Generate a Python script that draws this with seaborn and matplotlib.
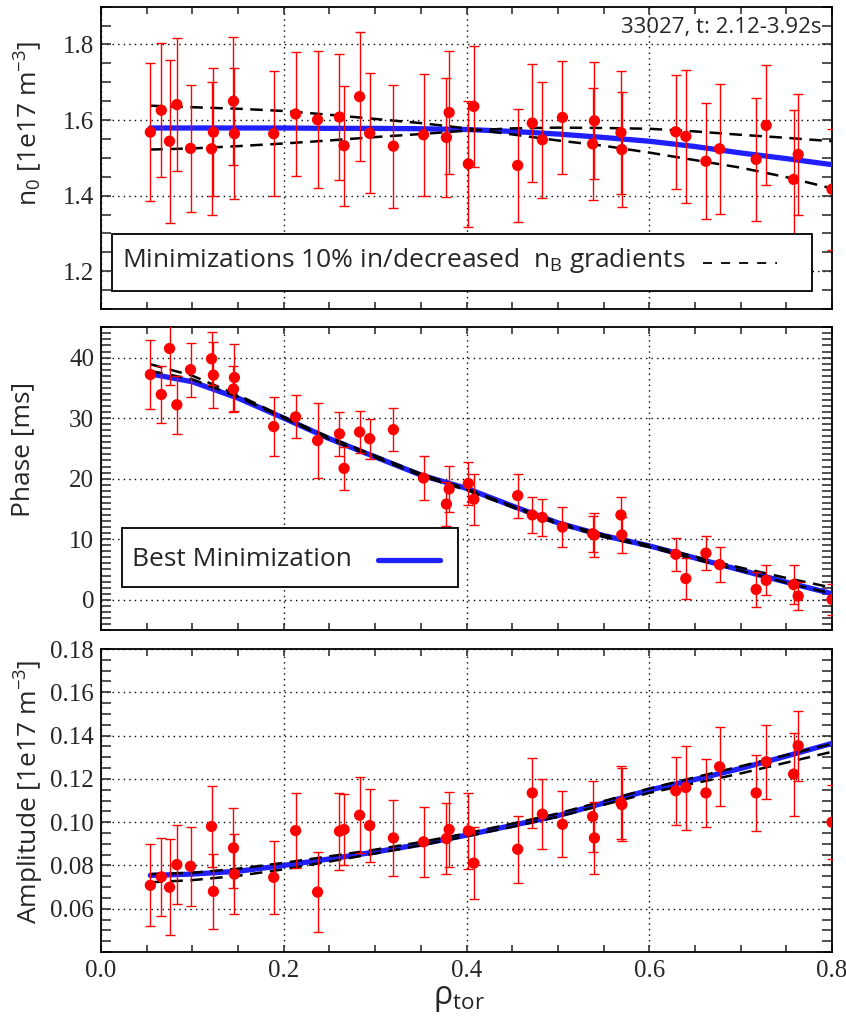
import numpy as np
import pandas as pd
import matplotlib
matplotlib.use("Agg")
import matplotlib.pyplot as plt
import seaborn as sns
from matplotlib.ticker import MultipleLocator
from matplotlib.patches import Rectangle
from matplotlib.lines import Line2D

# ---------------- data ----------------
rho = [0.054, 0.066, 0.075, 0.083, 0.098, 0.121, 0.123, 0.145, 0.146, 0.189,
       0.213, 0.237, 0.261, 0.266, 0.283, 0.294, 0.320, 0.353, 0.378, 0.381,
       0.402, 0.408, 0.456, 0.472, 0.483, 0.505, 0.538, 0.540, 0.569, 0.570,
       0.629, 0.640, 0.662, 0.677, 0.717, 0.728, 0.758, 0.763, 0.800]

n0 = [1.568, 1.626, 1.544, 1.641, 1.525, 1.524, 1.568, 1.650, 1.564, 1.564,
      1.616, 1.601, 1.608, 1.532, 1.662, 1.565, 1.531, 1.561, 1.554, 1.620,
      1.484, 1.636, 1.480, 1.592, 1.548, 1.607, 1.537, 1.598, 1.567, 1.522,
      1.569, 1.557, 1.491, 1.524, 1.496, 1.586, 1.443, 1.509, 1.417]
n0_err = [0.182, 0.177, 0.216, 0.175, 0.168, 0.176, 0.169, 0.170, 0.174, 0.165,
          0.163, 0.182, 0.166, 0.159, 0.171, 0.159, 0.163, 0.161, 0.158, 0.164,
          0.166, 0.161, 0.150, 0.157, 0.154, 0.150, 0.148, 0.155, 0.163, 0.153,
          0.151, 0.176, 0.154, 0.172, 0.163, 0.159, 0.184, 0.160, 0.160]

phase = [37.2, 33.9, 41.5, 32.2, 38.0, 39.8, 37.1, 34.8, 36.7, 28.6,
         30.2, 26.3, 27.4, 21.7, 27.7, 26.6, 28.1, 20.1, 15.8, 18.3,
         19.2, 16.6, 17.2, 14.0, 13.6, 12.0, 10.9, 10.7, 14.0, 10.7,
         7.5, 3.5, 7.7, 5.8, 1.7, 3.2, 2.5, 0.6, 0.05]
phase_err = [5.7, 4.65, 6.1, 4.75, 4.45, 4.35, 5.5, 3.85, 5.6, 4.9,
             3.55, 6.25, 3.65, 3.55, 3.4, 3.3, 3.6, 3.7, 3.7, 3.75,
             3.5, 4.2, 3.65, 2.95, 3.1, 3.3, 3.0, 3.6, 3.05, 3.0,
             2.75, 3.4, 2.85, 2.9, 2.95, 2.5, 3.25, 2.35, 2.5]

amp = [0.0708, 0.0747, 0.0699, 0.0804, 0.0796, 0.0980, 0.0680, 0.0881, 0.0760, 0.0745,
       0.0961, 0.0677, 0.0958, 0.0966, 0.1032, 0.0984, 0.0927, 0.0909, 0.0924, 0.0966,
       0.0960, 0.0811, 0.0875, 0.1135, 0.1037, 0.0990, 0.1026, 0.0927, 0.1091, 0.1081,
       0.1145, 0.1160, 0.1135, 0.1256, 0.1135, 0.1279, 0.1222, 0.1353, 0.1000]
amp_err = [0.0189, 0.0181, 0.0221, 0.0181, 0.0182, 0.0188, 0.0173, 0.0183, 0.0184, 0.0168,
           0.0173, 0.0186, 0.0178, 0.0165, 0.0176, 0.0167, 0.0176, 0.0163, 0.0165, 0.0171,
           0.0176, 0.0168, 0.0155, 0.0163, 0.0163, 0.0153, 0.0166, 0.0165, 0.0170, 0.0169,
           0.0156, 0.0194, 0.0159, 0.0182, 0.0174, 0.0170, 0.0192, 0.0162, 0.0170]

fit_rho = [0.054, 0.10, 0.15, 0.20, 0.25, 0.30, 0.35, 0.40, 0.45, 0.50,
           0.55, 0.60, 0.65, 0.70, 0.75, 0.80]

n0_best = [1.579, 1.579, 1.579, 1.579, 1.578, 1.578, 1.577, 1.575, 1.570, 1.563,
           1.554, 1.544, 1.530, 1.513, 1.498, 1.482]
n0_grad_up = [1.638, 1.634, 1.630, 1.624, 1.614, 1.603, 1.592, 1.578, 1.562, 1.546,
              1.532, 1.514, 1.494, 1.474, 1.449, 1.419]
n0_grad_dn = [1.522, 1.525, 1.531, 1.538, 1.546, 1.555, 1.563, 1.572, 1.578, 1.580,
              1.579, 1.577, 1.570, 1.561, 1.553, 1.544]

phase_best = [37.3, 36.0, 33.3, 30.0, 26.6, 23.6, 20.6, 18.4, 15.5, 12.7,
              10.6, 8.9, 6.9, 4.9, 2.9, 1.0]
phase_grad_up = [38.9, 37.0, 33.8, 30.2, 26.8, 23.8, 20.8, 18.3, 15.5, 12.8,
                 10.7, 9.0, 7.1, 5.3, 3.6, 2.0]
phase_grad_dn = [37.8, 36.4, 33.5, 30.0, 26.5, 23.5, 20.5, 18.1, 15.3, 12.5,
                 10.4, 8.7, 6.7, 4.8, 2.8, 1.0]

amp_best = [0.0754, 0.0760, 0.0773, 0.0800, 0.0830, 0.0862, 0.0898, 0.0940, 0.0985, 0.1030,
            0.1088, 0.1148, 0.1197, 0.1248, 0.1305, 0.1364]
amp_grad_up = [0.0760, 0.0766, 0.0785, 0.0812, 0.0842, 0.0873, 0.0908, 0.0948, 0.0993, 0.1040,
               0.1097, 0.1155, 0.1207, 0.1258, 0.1310, 0.1362]
amp_grad_dn = [0.0722, 0.0732, 0.0752, 0.0782, 0.0818, 0.0855, 0.0893, 0.0935, 0.0978, 0.1025,
               0.1080, 0.1135, 0.1180, 0.1225, 0.1275, 0.1325]

x_ticks = [0.0, 0.2, 0.4, 0.6, 0.8]
n0_ticks = [1.2, 1.4, 1.6, 1.8]
phase_ticks = [0, 10, 20, 30, 40]
amp_ticks = [0.06, 0.08, 0.10, 0.12, 0.14, 0.16, 0.18]

title_text = "33027, t: 2.12-3.92s"
legend_grad = r"Minimizations 10% in/decreased  n$_{\mathrm{B}}$ gradients"
legend_best = "Best Minimization"

# ---------------- style ----------------
sns.set_style("ticks")
plt.rcParams['font.family'] = ['Liberation Serif', 'DejaVu Serif']
plt.rcParams['mathtext.fontset'] = 'custom'
plt.rcParams['mathtext.rm'] = 'Open Sans'
plt.rcParams['mathtext.it'] = 'Open Sans:italic'
plt.rcParams['mathtext.bf'] = 'Open Sans:bold'
plt.rcParams['axes.linewidth'] = 1.3
plt.rcParams['axes.edgecolor'] = 'black'

SANS = ['Open Sans', 'DejaVu Sans']
SERIF = ['Liberation Serif', 'DejaVu Serif']
BLUE = '#2020ff'
RED = '#ff0000'

fig = plt.figure(figsize=(8.46, 10.17), dpi=100)
L, W = 101 / 846, 731 / 846
ax_top = fig.add_axes([L, 708 / 1017, W, 302.3 / 1017])
ax_mid = fig.add_axes([L, 387 / 1017, W, 302.7 / 1017])
ax_bot = fig.add_axes([L, 65 / 1017, W, 303 / 1017])

panels = [
    (ax_top, n0, n0_err, n0_best, n0_grad_up, n0_grad_dn, (1.1, 1.9), n0_ticks, 0.05, '%.1f', False),
    (ax_mid, phase, phase_err, phase_best, phase_grad_up, phase_grad_dn, (-5, 45), phase_ticks, 1, '%d', False),
    (ax_bot, amp, amp_err, amp_best, amp_grad_up, amp_grad_dn, (0.04, 0.18), amp_ticks, 0.005, '%.2f', True),
]

for ax, y, yerr, best, up, dn, ylim, yt, yminor, fmt, xlab in panels:
    sns.lineplot(x=fit_rho, y=best, ax=ax, color=BLUE, lw=3.8, zorder=3, legend=False)
    for grad in (up, dn):
        sns.lineplot(x=fit_rho, y=grad, ax=ax, color='black', lw=1.8,
                     linestyle=(0, (5, 3)), zorder=4, legend=False)
    ax.errorbar(rho, y, yerr=yerr, fmt='none', ecolor=RED, elinewidth=1.0,
                capsize=3.5, capthick=1.0, zorder=5)
    sns.scatterplot(x=rho, y=y, ax=ax, color=RED, s=66, edgecolor='none',
                    zorder=6, legend=False)
    ax.set_xlim(0, 0.8)
    ax.set_ylim(*ylim)
    ax.set_xticks(x_ticks, labels=[('%.1f' % v) if xlab else '' for v in x_ticks],
                  fontfamily=SERIF, fontsize=18)
    ax.xaxis.set_minor_locator(MultipleLocator(0.05))
    ax.set_yticks(yt, labels=[fmt % v for v in yt], fontfamily=SERIF, fontsize=18)
    ax.yaxis.set_minor_locator(MultipleLocator(yminor))
    ax.grid(True, which='major', color='black', lw=1.0, linestyle=(0, (1, 3)))
    ax.tick_params(which='both', direction='in', top=True, right=True,
                   color='#333333', width=1.2)
    ax.tick_params(axis='y', which='both', length=7, pad=5)
    ax.tick_params(axis='x', which='both', length=5, pad=6)
    ax.set_xlabel('')
    ax.set_ylabel('')

# y labels
ax_top.set_ylabel(r"n$_{\mathrm{0}}$ [1e17 m$^{\mathrm{-3}}$]", fontfamily=SANS, fontsize=19, va='center')
ax_top.yaxis.set_label_coords(-0.100, 0.615)
ax_mid.set_ylabel("Phase [ms]", fontfamily=SANS, fontsize=19, va='center')
ax_mid.yaxis.set_label_coords(-0.107, 0.595)
ax_bot.set_ylabel(r"Amplitude [1e17 m$^{\mathrm{-3}}$]", fontfamily=SANS, fontsize=19, va='center')
ax_bot.yaxis.set_label_coords(-0.098, 0.528)
ax_bot.set_xlabel(r"ρ$_{\mathrm{tor}}$", fontfamily=SANS, fontsize=23, va='baseline')
ax_bot.xaxis.set_label_coords(0.49, -0.170)

# annotation
ax_top.text(0.986, 0.913, title_text, transform=ax_top.transAxes, ha='right',
            va='baseline', fontsize=16, fontfamily=SANS, zorder=12)

# legend boxes
ax_top.add_patch(Rectangle((0.0146, 0.0595), 0.9574, 0.1875, transform=ax_top.transAxes,
                           facecolor='white', edgecolor='black', lw=1.3, zorder=10))
ax_top.text(0.0287, 0.140, legend_grad, transform=ax_top.transAxes, ha='left',
            va='baseline', fontsize=19, fontfamily=SANS, zorder=11)
ax_top.add_line(Line2D([0.8235, 0.9247], [0.151, 0.151], transform=ax_top.transAxes,
                       color='black', lw=1.3, linestyle=(0, (5, 5)), zorder=11))

ax_mid.add_patch(Rectangle((0.0283, 0.141), 0.4605, 0.195, transform=ax_mid.transAxes,
                           facecolor='white', edgecolor='black', lw=1.3, zorder=10))
ax_mid.text(0.042, 0.2124, legend_best, transform=ax_mid.transAxes, ha='left',
            va='baseline', fontsize=19, fontfamily=SANS, zorder=11)
ax_mid.add_line(Line2D([0.379, 0.4637], [0.231, 0.231], transform=ax_mid.transAxes,
                       color=BLUE, lw=3.8, zorder=11))

fig.savefig("out.png", dpi=100, facecolor='white')
